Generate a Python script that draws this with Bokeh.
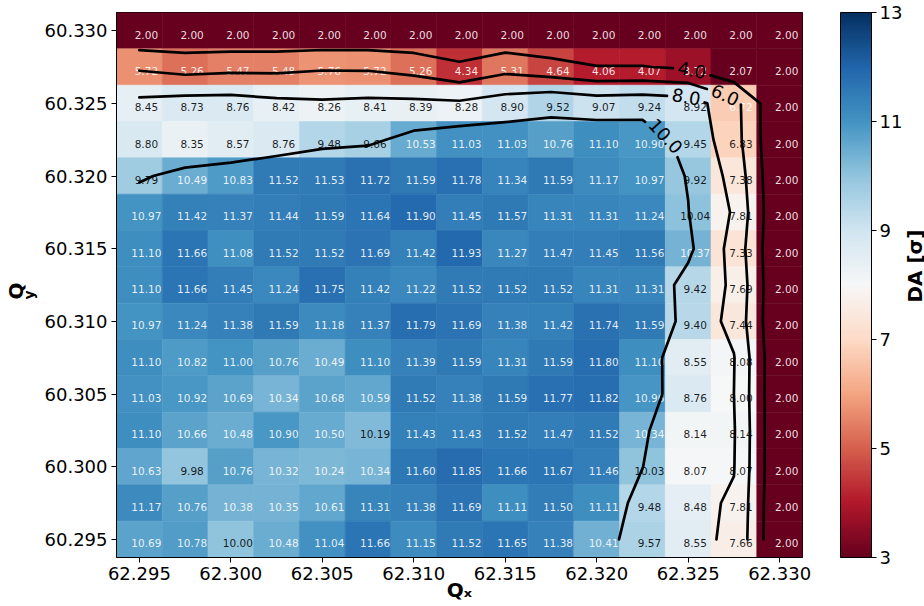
import numpy as np
from bokeh.plotting import figure
from bokeh.layouts import row
from bokeh.models import (ColumnDataSource, LinearColorMapper, ColorBar, FixedTicker,
                          PrintfTickFormatter, Range1d, Title)
from bokeh.core.properties import value
from bokeh.transform import transform
from bokeh.embed import file_html
from bokeh.resources import INLINE
from contourpy import contour_generator

# ---------------- data ----------------
qx = [62.295, 62.2975, 62.300, 62.3025, 62.305, 62.3075, 62.310, 62.3125,
      62.315, 62.3175, 62.320, 62.3225, 62.325, 62.3275, 62.330]
# rows listed from top (60.330) to bottom (60.295)
qy = [60.330, 60.3275, 60.325, 60.3225, 60.320, 60.3175, 60.315, 60.3125,
      60.310, 60.3075, 60.305, 60.3025, 60.300, 60.2975, 60.295]

row_60_3300 = [2.00] * 15
row_60_3275 = [5.72, 5.26, 5.47, 5.48, 5.76, 5.72, 5.26, 4.34, 5.31, 4.64, 4.06, 4.07, 3.72, 2.07, 2.00]
row_60_3250 = [8.45, 8.73, 8.76, 8.42, 8.26, 8.41, 8.39, 8.28, 8.90, 9.52, 9.07, 9.24, 8.92, 6.72, 2.00]
row_60_3225 = [8.80, 8.35, 8.57, 8.76, 9.48, 9.66, 10.53, 11.03, 11.03, 10.76, 11.10, 10.90, 9.45, 6.83, 2.00]
row_60_3200 = [9.79, 10.49, 10.83, 11.52, 11.53, 11.72, 11.59, 11.78, 11.34, 11.59, 11.17, 10.97, 9.92, 7.38, 2.00]
row_60_3175 = [10.97, 11.42, 11.37, 11.44, 11.59, 11.64, 11.90, 11.45, 11.57, 11.31, 11.31, 11.24, 10.04, 7.81, 2.00]
row_60_3150 = [11.10, 11.66, 11.08, 11.52, 11.52, 11.69, 11.42, 11.93, 11.27, 11.47, 11.45, 11.56, 10.37, 7.33, 2.00]
row_60_3125 = [11.10, 11.66, 11.45, 11.24, 11.75, 11.42, 11.22, 11.52, 11.52, 11.52, 11.31, 11.31, 9.42, 7.69, 2.00]
row_60_3100 = [10.97, 11.24, 11.38, 11.59, 11.18, 11.37, 11.79, 11.69, 11.38, 11.42, 11.74, 11.59, 9.40, 7.44, 2.00]
row_60_3075 = [11.10, 10.82, 11.00, 10.76, 10.49, 11.10, 11.39, 11.59, 11.31, 11.59, 11.80, 11.10, 8.55, 8.08, 2.00]
row_60_3050 = [11.03, 10.92, 10.69, 10.34, 10.68, 10.59, 11.52, 11.38, 11.59, 11.77, 11.82, 10.96, 8.76, 8.00, 2.00]
row_60_3025 = [11.10, 10.66, 10.48, 10.90, 10.50, 10.19, 11.43, 11.43, 11.52, 11.47, 11.52, 10.34, 8.14, 8.14, 2.00]
row_60_3000 = [10.63, 9.98, 10.76, 10.32, 10.24, 10.34, 11.60, 11.85, 11.66, 11.67, 11.46, 10.03, 8.07, 8.07, 2.00]
row_60_2975 = [11.17, 10.76, 10.38, 10.35, 10.61, 11.31, 11.38, 11.69, 11.11, 11.50, 11.11, 9.48, 8.48, 7.81, 2.00]
row_60_2950 = [10.69, 10.78, 10.00, 10.48, 11.04, 11.66, 11.15, 11.52, 11.65, 11.38, 10.41, 9.57, 8.55, 7.66, 2.00]

da_rows = [row_60_3300, row_60_3275, row_60_3250, row_60_3225, row_60_3200,
           row_60_3175, row_60_3150, row_60_3125, row_60_3100, row_60_3075,
           row_60_3050, row_60_3025, row_60_3000, row_60_2975, row_60_2950]

x_ticks = [62.295, 62.300, 62.305, 62.310, 62.315, 62.320, 62.325, 62.330]
y_ticks = [60.295, 60.300, 60.305, 60.310, 60.315, 60.320, 60.325, 60.330]
cbar_ticks = [3, 5, 7, 9, 11, 13]
contour_levels = [4.0, 6.0, 8.0, 10.0]
label_fracs = [0.52, 0.565, 0.54, 0.56]   # position of inline label along each line
da_low, da_high = 3, 13

# ---------------- colormap (RdBu) ----------------
rdbu = ['#67001f', '#b2182b', '#d6604d', '#f4a582', '#fddbc7', '#f7f7f7',
        '#d1e5f0', '#92c5de', '#4393c3', '#2166ac', '#053061']
anch = np.array([[int(h[i:i + 2], 16) for i in (1, 3, 5)] for h in rdbu], dtype=float)
pos = np.linspace(0, 1, len(rdbu))
tt = np.linspace(0, 1, 256)
palette = ['#%02x%02x%02x' % tuple(int(round(np.interp(t, pos, anch[:, k]))) for k in range(3)) for t in tt]
mapper = LinearColorMapper(palette=palette, low=da_low, high=da_high,
                           low_color=palette[0], high_color=palette[-1])

# ---------------- geometry ----------------
dx = qx[1] - qx[0]
dy = qy[0] - qy[1]
X0, X1 = min(qx) - dx / 2, max(qx) + dx / 2
Y0, Y1 = min(qy) - dy / 2, max(qy) + dy / 2

W, H = 924, 606
SIDE = 19                      # narrow strip holding the colorbar title
WP = W - SIDE
BL, BT, BB = 116, 12, 49
FW, FH = 687, H - BT - BB
BR = WP - BL - FW

p = figure(width=WP, height=H, x_range=Range1d(X0, X1), y_range=Range1d(Y0, Y1),
           output_backend="svg", toolbar_location=None,
           min_border_left=BL, min_border_right=BR, min_border_top=BT, min_border_bottom=BB)
p.background_fill_color = "white"
p.border_fill_color = "white"
p.outline_line_color = "black"
p.outline_line_width = 1
p.xgrid.visible = False
p.ygrid.visible = False

# cells
xs, ys, vs, labs, tcs = [], [], [], [], []
for j, yv in enumerate(qy):
    for i, xv in enumerate(qx):
        v = da_rows[j][i]
        xs.append(xv); ys.append(yv); vs.append(v)
        labs.append("%.2f" % v)
        tcs.append("black" if 6.8 <= v <= 10.2 else "white")
src = ColumnDataSource(dict(x=xs, y=ys, v=vs, lab=labs, tc=tcs))
p.rect(x='x', y='y', width=dx, height=dy, source=src,
       fill_color=transform('v', mapper), line_color=transform('v', mapper), line_width=0.6)
p.text(x='x', y='y', text='lab', source=src, text_color='tc', text_alpha=0.88,
       text_font=value("DejaVu Sans"), text_font_size="10.5px",
       text_align="center", text_baseline="middle", x_offset=7, y_offset=4)

# contours
Z = np.array(da_rows[::-1], dtype=float)
ya = np.array(qy[::-1], dtype=float)
xa = np.array(qx, dtype=float)
gen = contour_generator(x=xa, y=ya, z=Z, line_type="Separate")
sx = FW / (X1 - X0)
sy = FH / (Y1 - Y0)
fs = 18
cl_xs, cl_ys = [], []
lab_x, lab_y, lab_t, lab_a = [], [], [], []
for lev, frac in zip(contour_levels, label_fracs):
    lines = [np.asarray(l) for l in gen.lines(lev) if len(l) > 1]
    if not lines:
        continue
    lens = []
    for l in lines:
        P = np.column_stack([(l[:, 0] - X0) * sx, (l[:, 1] - Y0) * sy])
        lens.append(np.sum(np.hypot(np.diff(P[:, 0]), np.diff(P[:, 1]))))
    kmain = int(np.argmax(lens))
    for k, l in enumerate(lines):
        if k != kmain:
            if lens[k] > 20:
                cl_xs.append(list(l[:, 0])); cl_ys.append(list(l[:, 1]))
            continue
        if l[0, 0] > l[-1, 0]:
            l = l[::-1]
        P = np.column_stack([(l[:, 0] - X0) * sx, (l[:, 1] - Y0) * sy])
        seg = np.hypot(np.diff(P[:, 0]), np.diff(P[:, 1]))
        s = np.concatenate([[0], np.cumsum(seg)])
        L = s[-1]
        sc = frac * L
        txt = "%.1f" % lev
        w = (0.636 * (len(txt) - 1) + 0.318) * fs
        half = w / 2 + 5

        def at(sv):
            return np.array([np.interp(sv, s, P[:, 0]), np.interp(sv, s, P[:, 1])])
        c = at(sc)
        a = at(max(sc - half, 0))
        b = at(min(sc + half, L))
        ang = np.arctan2(b[1] - a[1], b[0] - a[0])
        if ang > np.pi / 2:
            ang -= np.pi
        if ang < -np.pi / 2:
            ang += np.pi
        before = np.vstack([P[s < sc - half], a[None, :]])
        after = np.vstack([b[None, :], P[s > sc + half]])
        for part in (before, after):
            if len(part) > 1:
                cl_xs.append(list(part[:, 0] / sx + X0))
                cl_ys.append(list(part[:, 1] / sy + Y0))
        lab_x.append(c[0] / sx + X0); lab_y.append(c[1] / sy + Y0)
        lab_t.append(txt); lab_a.append(float(ang))

p.multi_line(xs=cl_xs, ys=cl_ys, line_color="black", line_width=2.7,
             line_join="round", line_cap="round")
p.text(x=lab_x, y=lab_y, text=lab_t, angle=lab_a, text_color="black",
       text_font=value("DejaVu Sans"), text_font_size="%dpx" % fs,
       text_align="center", text_baseline="middle")

# axes
for ax, ticks in ((p.xaxis, x_ticks), (p.yaxis, y_ticks)):
    ax.ticker = FixedTicker(ticks=ticks)
    ax.formatter = PrintfTickFormatter(format="%.3f")
    ax.major_label_text_font = "DejaVu Sans"
    ax.major_label_text_font_size = "18px"
    ax.major_label_text_color = "black"
    ax.major_tick_out = 5
    ax.major_tick_in = 0
    ax.minor_tick_line_color = None
    ax.axis_line_color = "black"
    ax.major_tick_line_color = "black"
    ax.major_label_standoff = 4

p.xaxis.axis_label = "Q\u2093"
p.xaxis.axis_label_text_font = "DejaVu Sans"
p.xaxis.axis_label_text_font_style = "bold"
p.xaxis.axis_label_text_font_size = "20px"
p.xaxis.axis_label_text_color = "black"
p.xaxis.axis_label_standoff = -5

# blank spacer label on the y axis (pushes the Q_y titles outward a little)
p.yaxis.axis_label = " "
p.yaxis.axis_label_text_font_size = "9px"
p.yaxis.axis_label_standoff = 0

# colorbar
cb = ColorBar(color_mapper=mapper, ticker=FixedTicker(ticks=cbar_ticks),
              width=31, height=FH, padding=0, margin=0, location=(38, 0),
              major_label_text_font="DejaVu Sans", major_label_text_font_size="18px",
              major_label_text_color="black",
              major_tick_out=5, major_tick_in=0, major_tick_line_color="black",
              minor_tick_line_color=None,
              bar_line_color="black", bar_line_width=1,
              border_line_color=None, background_fill_alpha=0, label_standoff=3)
p.add_layout(cb, "right")

# Q_y label as two titles on the left (subscript nearer the axis, raised)
tkw = dict(text_font="DejaVu Sans", text_font_style="bold", text_color="black",
           align="left")
p.add_layout(Title(text="y", text_font_size="14px", offset=258, standoff=-17, **tkw), "left")
p.add_layout(Title(text="Q", text_font_size="20px", offset=258, standoff=0, **tkw), "left")

# narrow strip with the colorbar title, reading bottom to top
p2 = figure(width=SIDE, height=H, x_range=Range1d(0, SIDE), y_range=Range1d(0, H),
            output_backend="svg", toolbar_location=None,
            x_axis_location=None, y_axis_location=None,
            min_border_left=0, min_border_right=0, min_border_top=0, min_border_bottom=0)
p2.outline_line_color = None
p2.background_fill_color = "white"
p2.border_fill_color = "white"
p2.grid.visible = False
p2.text(x=[SIDE / 2], y=[H - 282], text=["DA [σ]"], angle=np.pi / 2,
        text_font=value("DejaVu Sans"), text_font_style="bold", text_font_size="20px",
        text_color="black", text_align="center", text_baseline="middle")

layout = row(p, p2, spacing=0)
open("out.html", "w").write(file_html(layout, INLINE))
